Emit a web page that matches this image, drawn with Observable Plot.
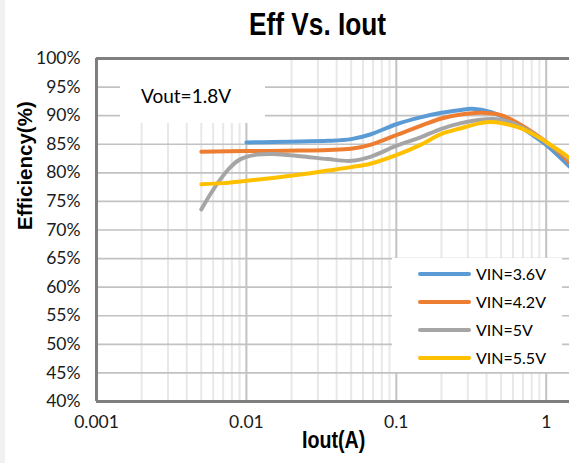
<!DOCTYPE html>
<html>
<head>
<meta charset="utf-8">
<script src="https://cdn.jsdelivr.net/npm/d3@7"></script>
<script src="https://cdn.jsdelivr.net/npm/@observablehq/plot@0.6"></script>
<style>
  body { margin: 0; background: #fff; }
  #wrap { position: relative; width: 569px; height: 463px; overflow: hidden; background: #fff; }
  #strip { position: absolute; left: 0; top: 0; width: 5px; height: 463px; background: #f1f1f1; }
  #title { height: 44px; line-height: 48px; padding-left: 67px; text-align: center; font-family: "Liberation Sans", Arial, sans-serif; font-weight: bold; font-size: 32px; color: #000; white-space: nowrap; }
  #title span { display: inline-block; transform: scaleX(0.82); transform-origin: center; }
  #xlabel { position: absolute; left: 234px; width: 200px; top: 425px; height: 30px; line-height: 30px; text-align: center; font-family: "Liberation Sans", Arial, sans-serif; font-weight: bold; font-size: 24px; color: #000; }
  #xlabel span { display: inline-block; transform: scaleX(0.82); transform-origin: center; }
  #vout { position: absolute; left: 120px; top: 60px; width: 145px; height: 63px; background: #fff; font-family: Lato, sans-serif; font-size: 19px; color: #000; }
  #vout span { position: absolute; left: 21px; top: 24px; line-height: 24px; }
  #legend { position: absolute; left: 392px; top: 258px; width: 170px; height: 114px; background: #fff; font-family: Lato, sans-serif; font-size: 16px; color: #000; }
  .item { position: absolute; left: 0; height: 24px; width: 170px; }
  .sw { position: absolute; left: 26px; top: 10px; width: 53px; height: 4px; border-radius: 2px; }
  .lb { position: absolute; left: 84px; top: 0; line-height: 24px; white-space: nowrap; }
</style>
</head>
<body>
<div id="wrap">
  <div id="strip"></div>
  <div id="title"><span>Eff Vs. Iout</span></div>
  <div id="chart"></div>
  <div id="xlabel"><span>Iout(A)</span></div>
  <div id="vout"><span>Vout=1.8V</span></div>
  <div id="legend"></div>
</div>
<script>
// ---- data ----
const seriesNames = ["VIN=3.6V", "VIN=4.2V", "VIN=5V", "VIN=5.5V"];
const seriesColors = ["#5B9BD5", "#ED7D31", "#A5A5A5", "#FFC000"];

const vin36X = [0.01, 0.015, 0.023, 0.035, 0.05, 0.067, 0.1, 0.145, 0.2, 0.27, 0.32, 0.43, 0.58, 0.79, 1.0, 1.25, 1.43];
const vin36Y = [85.3, 85.4, 85.5, 85.6, 85.9, 86.7, 88.5, 89.7, 90.5, 91.0, 91.2, 90.6, 89.1, 86.8, 84.9, 82.6, 81.1];

const vin42X = [0.005, 0.01, 0.023, 0.035, 0.05, 0.067, 0.1, 0.145, 0.2, 0.27, 0.365, 0.5, 0.675, 0.92, 1.0, 1.25, 1.43];
const vin42Y = [83.7, 83.8, 83.9, 84.0, 84.2, 84.9, 86.6, 88.2, 89.5, 90.2, 90.5, 90.1, 88.4, 86.1, 85.4, 83.3, 81.8];

const vin5X = [0.005, 0.00576, 0.00672, 0.00783, 0.00914, 0.0118, 0.0151, 0.023, 0.035, 0.05, 0.067, 0.1, 0.145, 0.2, 0.27, 0.365, 0.5, 0.675, 0.92, 1.0, 1.25, 1.43];
const vin5Y = [73.6, 76.3, 78.9, 81.0, 82.4, 83.2, 83.3, 82.9, 82.4, 82.1, 82.8, 84.7, 86.2, 87.7, 88.7, 89.3, 89.3, 88.1, 86.0, 85.3, 83.6, 82.3];

const vin55X = [0.005, 0.007, 0.01, 0.015, 0.023, 0.035, 0.05, 0.067, 0.1, 0.145, 0.2, 0.27, 0.365, 0.425, 0.5, 0.675, 0.92, 1.0, 1.25, 1.43];
const vin55Y = [78.0, 78.2, 78.6, 79.1, 79.7, 80.4, 81.0, 81.6, 83.1, 84.9, 86.8, 87.8, 88.7, 88.9, 88.7, 87.8, 86.0, 85.4, 83.7, 82.6];

const xTicks = [0.001, 0.01, 0.1, 1];
const xTickLabels = ["0.001", "0.01", "0.1", "1"];
const xMinorTicks = [0.002, 0.003, 0.004, 0.005, 0.006, 0.007, 0.008, 0.009,
                     0.02, 0.03, 0.04, 0.05, 0.06, 0.07, 0.08, 0.09,
                     0.2, 0.3, 0.4, 0.5, 0.6, 0.7, 0.8, 0.9];
const yTicks = [40, 45, 50, 55, 60, 65, 70, 75, 80, 85, 90, 95, 100];

// ---- build table ----
const allX = [vin36X, vin42X, vin5X, vin55X];
const allY = [vin36Y, vin42Y, vin5Y, vin55Y];
const rows = [];
seriesNames.forEach((name, s) => {
  allX[s].forEach((x, i) => rows.push({series: name, iout: x, eff: allY[s][i]}));
});

const chart = Plot.plot({
  width: 569,
  height: 419,
  marginTop: 14,
  marginBottom: 62,
  marginLeft: 96,
  marginRight: 0,
  x: {type: "log", domain: [0.001, 1.43]},
  y: {domain: [40, 100]},
  color: {domain: seriesNames, range: seriesColors},
  style: {fontFamily: "Lato, sans-serif", fontSize: "17px", color: "#1a1a1a", background: "transparent", overflow: "visible"},
  marks: [
    Plot.gridX(xMinorTicks, {stroke: "#e8e8e8", strokeOpacity: 1, strokeWidth: 2}),
    Plot.gridX(xTicks, {stroke: "#c2c2c2", strokeOpacity: 1, strokeWidth: 2}),
    Plot.gridY(yTicks, {stroke: "#c2c2c2", strokeOpacity: 1, strokeWidth: 1.6}),
    Plot.axisY(yTicks, {tickSize: 0, tickPadding: 16, tickFormat: d => d + "%", label: null, fontSize: 17.5}),
    Plot.axisX(xTicks, {tickSize: 0, tickPadding: 14, tickFormat: d => xTickLabels[xTicks.indexOf(d)], label: null, fontSize: 17.5}),
    Plot.line(rows, {x: "iout", y: "eff", z: "series", stroke: "series", strokeWidth: 4, curve: "catmull-rom"}),
    Plot.ruleY([40, 100], {stroke: "#7f7f7f", strokeWidth: 3}),
    Plot.ruleX([0.001], {stroke: "#7f7f7f", strokeWidth: 3}),
    Plot.text(["Efficiency(%)"], {frameAnchor: "left", dx: -71, rotate: -90, fontSize: 20.5, fontWeight: "bold", fontFamily: "Liberation Sans, Arial, sans-serif", fill: "#000"})
  ]
});
document.getElementById("chart").appendChild(chart);

// ---- legend ----
const legend = document.getElementById("legend");
const rowCenters = [16.3, 44.3, 72, 99.7];
seriesNames.forEach((name, i) => {
  const it = document.createElement("div");
  it.className = "item";
  it.style.top = (rowCenters[i] - 12) + "px";
  const sw = document.createElement("div");
  sw.className = "sw";
  sw.style.background = seriesColors[i];
  const lb = document.createElement("div");
  lb.className = "lb";
  lb.textContent = name;
  it.appendChild(sw);
  it.appendChild(lb);
  legend.appendChild(it);
});
</script>
</body>
</html>
